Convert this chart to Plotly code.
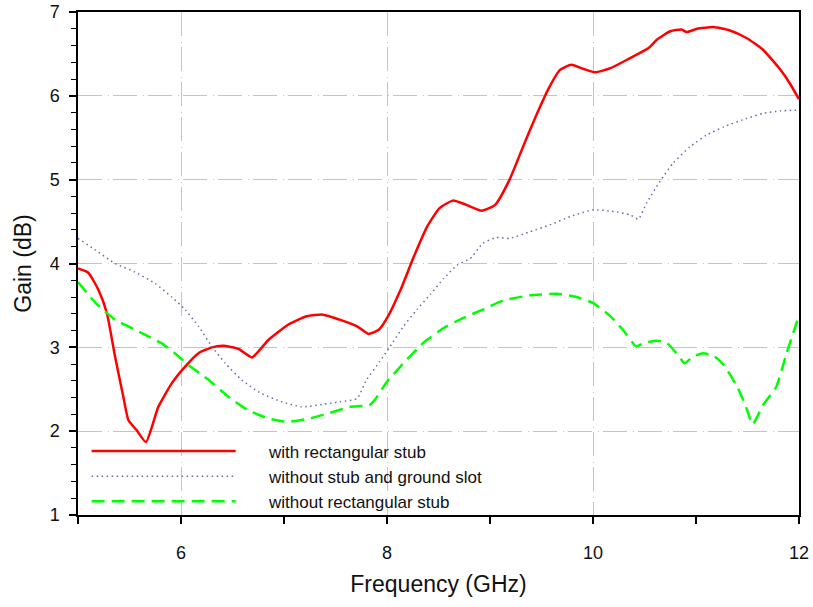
import plotly.graph_objects as go

# with rectangular stub
red_x = [5.00, 5.10, 5.20, 5.28, 5.36, 5.44, 5.49, 5.57, 5.66, 5.78, 5.91, 6.04, 6.17, 6.30, 6.41,
         6.56, 6.69, 6.85, 7.04, 7.22, 7.38, 7.54, 7.71, 7.82, 7.92, 8.01, 8.13, 8.26, 8.39, 8.51,
         8.64, 8.77, 8.92, 9.05, 9.19, 9.32, 9.45, 9.57, 9.68, 9.79, 9.91, 10.02, 10.17, 10.36,
         10.54, 10.62, 10.75, 10.86, 10.91, 11.01, 11.17, 11.33, 11.49, 11.65, 11.82, 11.91, 12.00]
red_y = [3.94, 3.89, 3.68, 3.41, 2.89, 2.41, 2.13, 2.01, 1.87, 2.29, 2.57, 2.77, 2.93, 3.00, 3.02,
         2.98, 2.88, 3.09, 3.27, 3.37, 3.39, 3.33, 3.25, 3.16, 3.21, 3.37, 3.68, 4.08, 4.44, 4.66,
         4.75, 4.70, 4.63, 4.70, 5.00, 5.39, 5.77, 6.09, 6.31, 6.37, 6.32, 6.28, 6.33, 6.45,
         6.57, 6.67, 6.77, 6.79, 6.76, 6.80, 6.82, 6.78, 6.69, 6.55, 6.31, 6.15, 5.96]

# without stub and ground slot
dot_x = [5.00, 5.17, 5.36, 5.55, 5.75, 5.91, 6.04, 6.17, 6.30, 6.43, 6.59, 6.78, 6.98, 7.17,
         7.38, 7.54, 7.71, 7.80, 7.93, 8.03, 8.16, 8.29, 8.42, 8.55, 8.68, 8.81, 8.93, 9.06,
         9.19, 9.39, 9.58, 9.78, 10.00, 10.20, 10.36, 10.44, 10.52, 10.65, 10.78, 10.94, 11.10,
         11.27, 11.49, 11.65, 11.82, 12.00]
dot_y = [4.30, 4.16, 4.00, 3.90, 3.76, 3.60, 3.45, 3.25, 3.01, 2.81, 2.61, 2.45, 2.35, 2.29,
         2.32, 2.35, 2.39, 2.61, 2.83, 3.01, 3.25, 3.45, 3.63, 3.82, 3.98, 4.06, 4.24, 4.31,
         4.30, 4.38, 4.46, 4.56, 4.64, 4.62, 4.58, 4.53, 4.72, 4.98, 5.20, 5.39, 5.53,
         5.63, 5.73, 5.79, 5.82, 5.83]

# without rectangular stub
grn_x = [5.00, 5.17, 5.36, 5.62, 5.81, 5.94, 6.07, 6.27, 6.46, 6.65, 6.85, 7.03, 7.25, 7.45,
         7.64, 7.83, 7.88, 8.00, 8.16, 8.35, 8.55, 8.74, 8.93, 9.13, 9.39, 9.65, 9.84, 10.00,
         10.17, 10.29, 10.42, 10.49, 10.62, 10.72, 10.81, 10.89, 10.97, 11.07, 11.17, 11.27,
         11.40, 11.48, 11.55, 11.65, 11.78, 11.88, 12.00]
grn_y = [3.78, 3.53, 3.33, 3.17, 3.05, 2.93, 2.79, 2.61, 2.41, 2.25, 2.15, 2.11, 2.15, 2.22,
         2.29, 2.31, 2.37, 2.59, 2.81, 3.05, 3.23, 3.35, 3.45, 3.56, 3.62, 3.64, 3.60, 3.53,
         3.37, 3.21, 3.01, 3.05, 3.08, 3.05, 2.93, 2.81, 2.89, 2.93, 2.90, 2.79,
         2.53, 2.31, 2.08, 2.31, 2.53, 2.93, 3.38]

names = ["with rectangular stub", "without stub and ground slot", "without rectangular stub"]
pad = "\u00a0" * 6

fig = go.Figure()
fig.add_trace(go.Scatter(x=red_x, y=red_y, mode="lines", name=pad + names[0],
                         line=dict(color="#ff0000", width=2.5, shape="spline", smoothing=0.5)))
fig.add_trace(go.Scatter(x=dot_x, y=dot_y, mode="lines", name=pad + names[1],
                         line=dict(color="#6a6aa8", width=1.5, dash="1.5px,3.5px",
                                   shape="spline", smoothing=0.5)))
fig.add_trace(go.Scatter(x=grn_x, y=grn_y, mode="lines", name=pad + names[2],
                         line=dict(color="#00ff00", width=2.5, dash="13px,7px",
                                   shape="spline", smoothing=0.4)))

font = "Liberation Sans, Arial, sans-serif"
fig.update_layout(
    width=813, height=607,
    margin=dict(l=78, r=14, t=12, b=92),
    paper_bgcolor="white", plot_bgcolor="white",
    font=dict(family=font, color="#111111"),
    showlegend=True,
    legend=dict(x=0.012, y=0.162, xanchor="left", yanchor="top",
                bgcolor="rgba(0,0,0,0)", font=dict(size=17, family=font),
                itemwidth=144, tracegroupgap=0),
    xaxis=dict(range=[5, 12], dtick=2, tick0=0, showline=True, linecolor="black", linewidth=1.5,
               mirror=True, ticks="outside", ticklen=7, tickcolor="black", tickwidth=1.5,
               tickfont=dict(size=18), ticklabelstandoff=14, automargin=False,
               showgrid=True, gridcolor="#c4c4c4", griddash="24px,6px,1px,4px", gridwidth=1,
               zeroline=False,
               minor=dict(dtick=1, tick0=0, ticks="outside", ticklen=7, tickcolor="black",
                          tickwidth=1.5, showgrid=False),
               title=dict(text="Frequency (GHz)", font=dict(size=23), standoff=14)),
    yaxis=dict(range=[1, 7], dtick=1, tick0=0, showline=True, linecolor="black", linewidth=1.5,
               mirror=True, ticks="outside", ticklen=7, tickcolor="black", tickwidth=1.5,
               tickfont=dict(size=18), ticklabelstandoff=6, automargin=False,
               showgrid=True, gridcolor="#c4c4c4", griddash="24px,6px,1px,4px", gridwidth=1,
               zeroline=False,
               minor=dict(dtick=0.2, tick0=0, ticks="outside", ticklen=5, tickcolor="black",
                          tickwidth=1.2, showgrid=False),
               title=dict(text="Gain (dB)", font=dict(size=23), standoff=12)),
)

fig.write_html("out.html")
